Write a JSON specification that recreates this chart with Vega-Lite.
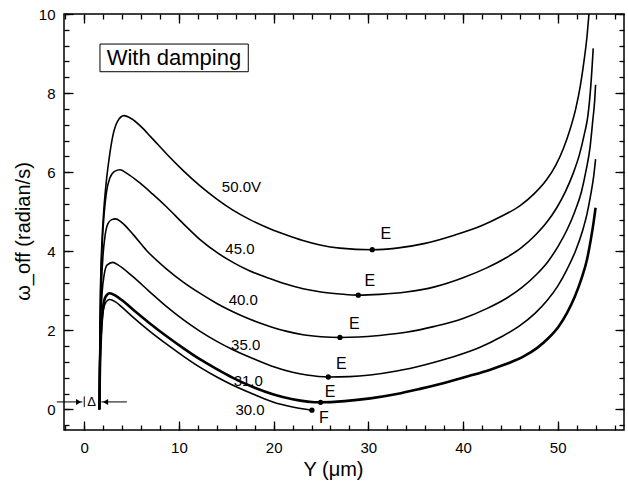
{
  "$schema": "https://vega.github.io/schema/vega-lite/v6.json",
  "width": 560,
  "height": 416,
  "autosize": "none",
  "padding": {"left": 64, "top": 14, "right": 4, "bottom": 55},
  "background": "white",
  "config": {
    "view": {"stroke": "black", "strokeWidth": 1.5},
    "font": "Liberation Sans",
    "axis": {"grid": false, "domain": false, "tickColor": "black", "tickWidth": 1.3, "labelColor": "black", "titleColor": "black", "labelFont": "Liberation Sans", "titleFont": "Liberation Sans", "labelFontSize": 15, "titleFontSize": 20, "titleFontWeight": "normal"}
  },
  "datasets": {
    "curves": [
      {"v":"50","x":1.6,"y":0},{"v":"50","x":1.62,"y":1.0},{"v":"50","x":1.66,"y":2.0},{"v":"50","x":1.71,"y":3.0},{"v":"50","x":1.78,"y":3.7},{"v":"50","x":1.9,"y":4.4},{"v":"50","x":2.05,"y":5.0},{"v":"50","x":2.3,"y":5.7},{"v":"50","x":2.6,"y":6.3},{"v":"50","x":3.0,"y":6.9},{"v":"50","x":3.5,"y":7.28},{"v":"50","x":4.2,"y":7.43},{"v":"50","x":5.0,"y":7.35},{"v":"50","x":6.0,"y":7.15},{"v":"50","x":7.0,"y":6.9},{"v":"50","x":8.7,"y":6.46},{"v":"50","x":10.45,"y":6.04},{"v":"50","x":12.2,"y":5.66},{"v":"50","x":14.0,"y":5.32},{"v":"50","x":15.7,"y":5.04},{"v":"50","x":17.5,"y":4.8},{"v":"50","x":19.6,"y":4.57},{"v":"50","x":21.5,"y":4.4},{"v":"50","x":23.0,"y":4.28},{"v":"50","x":24.9,"y":4.16},{"v":"50","x":27.0,"y":4.08},{"v":"50","x":30.4,"y":4.04},{"v":"50","x":33.0,"y":4.08},{"v":"50","x":36.0,"y":4.2},{"v":"50","x":39.0,"y":4.4},{"v":"50","x":42.0,"y":4.65},{"v":"50","x":44.0,"y":4.88},{"v":"50","x":46.0,"y":5.15},{"v":"50","x":47.5,"y":5.45},{"v":"50","x":48.8,"y":5.8},{"v":"50","x":49.8,"y":6.18},{"v":"50","x":50.6,"y":6.6},{"v":"50","x":51.3,"y":7.08},{"v":"50","x":51.9,"y":7.6},{"v":"50","x":52.4,"y":8.2},{"v":"50","x":52.8,"y":8.85},{"v":"50","x":53.1,"y":9.45},{"v":"50","x":53.3,"y":10.0},
      {"v":"45","x":1.6,"y":0},{"v":"45","x":1.62,"y":1.0},{"v":"45","x":1.66,"y":2.0},{"v":"45","x":1.72,"y":2.9},{"v":"45","x":1.8,"y":3.6},{"v":"45","x":1.92,"y":4.3},{"v":"45","x":2.1,"y":4.95},{"v":"45","x":2.35,"y":5.5},{"v":"45","x":2.7,"y":5.85},{"v":"45","x":3.2,"y":6.02},{"v":"45","x":3.77,"y":6.06},{"v":"45","x":4.5,"y":5.97},{"v":"45","x":5.9,"y":5.72},{"v":"45","x":7.2,"y":5.45},{"v":"45","x":8.7,"y":5.12},{"v":"45","x":10.45,"y":4.7},{"v":"45","x":12.2,"y":4.3},{"v":"45","x":14.0,"y":3.97},{"v":"45","x":15.7,"y":3.72},{"v":"45","x":17.5,"y":3.5},{"v":"45","x":19.6,"y":3.31},{"v":"45","x":21.3,"y":3.17},{"v":"45","x":23.1,"y":3.05},{"v":"45","x":25.0,"y":2.97},{"v":"45","x":27.0,"y":2.92},{"v":"45","x":28.94,"y":2.89},{"v":"45","x":31.2,"y":2.91},{"v":"45","x":34.0,"y":2.97},{"v":"45","x":37.0,"y":3.1},{"v":"45","x":40.0,"y":3.33},{"v":"45","x":42.5,"y":3.58},{"v":"45","x":44.5,"y":3.83},{"v":"45","x":46.2,"y":4.1},{"v":"45","x":47.6,"y":4.4},{"v":"45","x":48.8,"y":4.72},{"v":"45","x":49.9,"y":5.1},{"v":"45","x":50.8,"y":5.5},{"v":"45","x":51.6,"y":5.95},{"v":"45","x":52.3,"y":6.45},{"v":"45","x":52.8,"y":6.95},{"v":"45","x":53.2,"y":7.45},{"v":"45","x":53.5,"y":8.2},{"v":"45","x":53.75,"y":9.13},
      {"v":"40","x":1.6,"y":0},{"v":"40","x":1.62,"y":0.9},{"v":"40","x":1.67,"y":1.8},{"v":"40","x":1.74,"y":2.6},{"v":"40","x":1.84,"y":3.3},{"v":"40","x":1.98,"y":3.9},{"v":"40","x":2.2,"y":4.4},{"v":"40","x":2.5,"y":4.7},{"v":"40","x":2.9,"y":4.8},{"v":"40","x":3.3,"y":4.82},{"v":"40","x":3.9,"y":4.74},{"v":"40","x":5.17,"y":4.42},{"v":"40","x":6.58,"y":4.02},{"v":"40","x":8.7,"y":3.55},{"v":"40","x":10.45,"y":3.22},{"v":"40","x":12.2,"y":2.94},{"v":"40","x":14.0,"y":2.68},{"v":"40","x":15.7,"y":2.47},{"v":"40","x":17.5,"y":2.28},{"v":"40","x":19.6,"y":2.1},{"v":"40","x":21.3,"y":1.98},{"v":"40","x":23.1,"y":1.89},{"v":"40","x":25.0,"y":1.84},{"v":"40","x":27.0,"y":1.82},{"v":"40","x":29.0,"y":1.83},{"v":"40","x":31.2,"y":1.87},{"v":"40","x":34.0,"y":1.95},{"v":"40","x":37.0,"y":2.1},{"v":"40","x":40.0,"y":2.3},{"v":"40","x":42.5,"y":2.55},{"v":"40","x":44.5,"y":2.8},{"v":"40","x":46.2,"y":3.08},{"v":"40","x":47.7,"y":3.4},{"v":"40","x":49.0,"y":3.75},{"v":"40","x":50.1,"y":4.15},{"v":"40","x":51.0,"y":4.55},{"v":"40","x":51.8,"y":5.0},{"v":"40","x":52.5,"y":5.5},{"v":"40","x":53.0,"y":6.05},{"v":"40","x":53.4,"y":6.6},{"v":"40","x":53.7,"y":7.3},{"v":"40","x":53.9,"y":7.8},{"v":"40","x":54.0,"y":8.21},
      {"v":"35","x":1.6,"y":0},{"v":"35","x":1.63,"y":0.9},{"v":"35","x":1.69,"y":1.8},{"v":"35","x":1.78,"y":2.5},{"v":"35","x":1.9,"y":3.0},{"v":"35","x":2.1,"y":3.4},{"v":"35","x":2.4,"y":3.65},{"v":"35","x":3.0,"y":3.72},{"v":"35","x":3.6,"y":3.65},{"v":"35","x":5.17,"y":3.35},{"v":"35","x":6.8,"y":3.0},{"v":"35","x":8.7,"y":2.6},{"v":"35","x":10.45,"y":2.27},{"v":"35","x":12.2,"y":1.98},{"v":"35","x":14.0,"y":1.72},{"v":"35","x":15.7,"y":1.51},{"v":"35","x":18.0,"y":1.27},{"v":"35","x":20.0,"y":1.08},{"v":"35","x":22.0,"y":0.94},{"v":"35","x":23.5,"y":0.87},{"v":"35","x":25.77,"y":0.82},{"v":"35","x":28.0,"y":0.83},{"v":"35","x":30.2,"y":0.87},{"v":"35","x":33.0,"y":0.97},{"v":"35","x":36.0,"y":1.13},{"v":"35","x":39.0,"y":1.33},{"v":"35","x":41.8,"y":1.57},{"v":"35","x":44.0,"y":1.83},{"v":"35","x":46.0,"y":2.12},{"v":"35","x":47.6,"y":2.43},{"v":"35","x":48.9,"y":2.76},{"v":"35","x":50.0,"y":3.12},{"v":"35","x":51.0,"y":3.55},{"v":"35","x":51.9,"y":4.02},{"v":"35","x":52.6,"y":4.5},{"v":"35","x":53.1,"y":4.95},{"v":"35","x":53.5,"y":5.45},{"v":"35","x":53.8,"y":5.9},{"v":"35","x":54.0,"y":6.33},
      {"v":"31","x":1.6,"y":0},{"v":"31","x":1.64,"y":0.8},{"v":"31","x":1.72,"y":1.6},{"v":"31","x":1.84,"y":2.2},{"v":"31","x":2.0,"y":2.6},{"v":"31","x":2.25,"y":2.85},{"v":"31","x":2.7,"y":2.94},{"v":"31","x":3.3,"y":2.88},{"v":"31","x":4.0,"y":2.76},{"v":"31","x":5.17,"y":2.52},{"v":"31","x":6.8,"y":2.2},{"v":"31","x":8.7,"y":1.85},{"v":"31","x":10.45,"y":1.55},{"v":"31","x":12.2,"y":1.27},{"v":"31","x":14.0,"y":1.02},{"v":"31","x":15.7,"y":0.8},{"v":"31","x":18.0,"y":0.55},{"v":"31","x":20.0,"y":0.38},{"v":"31","x":22.0,"y":0.26},{"v":"31","x":24.96,"y":0.18},{"v":"31","x":27.5,"y":0.21},{"v":"31","x":30.2,"y":0.28},{"v":"31","x":33.0,"y":0.39},{"v":"31","x":35.45,"y":0.52},{"v":"31","x":38.0,"y":0.67},{"v":"31","x":40.7,"y":0.85},{"v":"31","x":42.8,"y":1.0},{"v":"31","x":44.7,"y":1.16},{"v":"31","x":46.4,"y":1.34},{"v":"31","x":47.8,"y":1.55},{"v":"31","x":49.0,"y":1.8},{"v":"31","x":50.1,"y":2.1},{"v":"31","x":51.0,"y":2.45},{"v":"31","x":51.8,"y":2.85},{"v":"31","x":52.5,"y":3.3},{"v":"31","x":53.1,"y":3.8},{"v":"31","x":53.5,"y":4.3},{"v":"31","x":53.8,"y":4.75},{"v":"31","x":54.0,"y":5.1},
      {"v":"30","x":1.6,"y":0},{"v":"30","x":1.64,"y":0.75},{"v":"30","x":1.72,"y":1.5},{"v":"30","x":1.84,"y":2.1},{"v":"30","x":2.0,"y":2.5},{"v":"30","x":2.25,"y":2.7},{"v":"30","x":2.64,"y":2.78},{"v":"30","x":3.3,"y":2.72},{"v":"30","x":4.0,"y":2.58},{"v":"30","x":5.17,"y":2.33},{"v":"30","x":6.8,"y":2.0},{"v":"30","x":8.7,"y":1.65},{"v":"30","x":10.45,"y":1.35},{"v":"30","x":12.2,"y":1.07},{"v":"30","x":14.0,"y":0.82},{"v":"30","x":15.7,"y":0.61},{"v":"30","x":18.0,"y":0.37},{"v":"30","x":20.0,"y":0.18},{"v":"30","x":22.0,"y":0.06},{"v":"30","x":24.04,"y":-0.02}
    ],
    "ends": [
      {"x":30.41,"y":4.04,"t":"E","lx":31.85,"ly":4.44},
      {"x":28.94,"y":2.89,"t":"E","lx":30.17,"ly":3.24},
      {"x":27.0,"y":1.82,"t":"E","lx":28.53,"ly":2.15},
      {"x":25.77,"y":0.82,"t":"E","lx":27.16,"ly":1.14},
      {"x":24.96,"y":0.18,"t":"E","lx":25.95,"ly":0.44},
      {"x":24.04,"y":-0.02,"t":"F","lx":25.3,"ly":-0.22}
    ],
    "curveLabels": [
      {"x":16.6,"y":5.62,"t":"50.0V"},
      {"x":16.44,"y":4.06,"t":"45.0"},
      {"x":16.79,"y":2.76,"t":"40.0"},
      {"x":17.05,"y":1.64,"t":"35.0"},
      {"x":17.32,"y":0.72,"t":"31.0"},
      {"x":17.5,"y":-0.02,"t":"30.0"}
    ],
    "box": [{"x":1.66,"x2":17.32,"y":8.54,"y2":9.24,"cx":9.47,"cy":8.88,"t":"With damping"}],
    "arrows": [
      {"x":-2.9,"x2":-0.2,"y":0.19,"y2":0.19},
      {"x":1.8,"x2":4.5,"y":0.19,"y2":0.19},
      {"x":0,"x2":0,"y":0.06,"y2":0.33}
    ],
    "heads": [
      {"x":-0.6,"y":0.19,"dir":"right"},
      {"x":2.25,"y":0.19,"dir":"left"}
    ],
    "delta": [{"x":0.78,"y":0.19,"t":"Δ"}]
  },
  "resolve": {"axis": {"x": "independent", "y": "independent"}},
  "layer": [
    {
      "data": {"name": "curves"},
      "transform": [{"filter": "datum.v !== '31'"}],
      "mark": {"type": "line", "color": "black", "strokeWidth": 1.6, "interpolate": "monotone"},
      "encoding": {
        "x": {"field": "x", "type": "quantitative", "scale": {"domain": [-2.14, 57], "nice": false, "zero": false},
              "axis": {"orient": "bottom", "values": [0,10,20,30,40,50], "tickSize": -9, "labelPadding": 19, "title": "Y (μm)", "titlePadding": 4, "titleX": 269}},
        "y": {"field": "y", "type": "quantitative", "scale": {"domain": [-0.52, 10], "nice": false, "zero": false},
              "axis": {"orient": "left", "values": [0,2,4,6,8,10], "tickSize": -9, "labelPadding": 18, "title": "ω_off (radian/s)", "titlePadding": 5, "titleY": 217}},
        "detail": {"field": "v"}
      }
    },
    {
      "data": {"name": "curves"},
      "transform": [{"filter": "datum.v === '31'"}],
      "mark": {"type": "line", "color": "black", "strokeWidth": 2.6, "interpolate": "monotone"},
      "encoding": {
        "x": {"field": "x", "type": "quantitative", "scale": {"domain": [-2.14, 57], "nice": false, "zero": false},
              "axis": {"orient": "bottom", "values": [-2,0,2,4,6,8,10,12,14,16,18,20,22,24,26,28,30,32,34,36,38,40,42,44,46,48,50,52,54,56], "tickSize": -5, "labels": false, "title": null}},
        "y": {"field": "y", "type": "quantitative", "scale": {"domain": [-0.52, 10], "nice": false, "zero": false},
              "axis": {"orient": "left", "values": [-0.4,0,0.4,0.8,1.2,1.6,2,2.4,2.8,3.2,3.6,4,4.4,4.8,5.2,5.6,6,6.4,6.8,7.2,7.6,8,8.4,8.8,9.2,9.6,10], "tickSize": -5, "labels": false, "title": null}}
      }
    },
    {
      "data": {"name": "ends"},
      "mark": {"type": "circle", "color": "black", "size": 28, "opacity": 1},
      "encoding": {
        "x": {"field": "x", "type": "quantitative", "scale": {"domain": [-2.14, 57], "nice": false, "zero": false},
              "axis": {"orient": "top", "values": [0,10,20,30,40,50], "tickSize": -9, "labels": false, "title": null}},
        "y": {"field": "y", "type": "quantitative", "scale": {"domain": [-0.52, 10], "nice": false, "zero": false},
              "axis": {"orient": "right", "values": [0,2,4,6,8,10], "tickSize": -9, "labels": false, "title": null}}
      }
    },
    {
      "data": {"name": "curveLabels"},
      "mark": {"type": "text", "color": "black", "fontSize": 15, "font": "Liberation Sans", "align": "center", "baseline": "middle"},
      "encoding": {
        "x": {"field": "x", "type": "quantitative", "scale": {"domain": [-2.14, 57], "nice": false, "zero": false},
              "axis": {"orient": "top", "values": [-2,0,2,4,6,8,10,12,14,16,18,20,22,24,26,28,30,32,34,36,38,40,42,44,46,48,50,52,54,56], "tickSize": -5, "labels": false, "title": null}},
        "y": {"field": "y", "type": "quantitative", "scale": {"domain": [-0.52, 10], "nice": false, "zero": false},
              "axis": {"orient": "right", "values": [-0.4,0,0.4,0.8,1.2,1.6,2,2.4,2.8,3.2,3.6,4,4.4,4.8,5.2,5.6,6,6.4,6.8,7.2,7.6,8,8.4,8.8,9.2,9.6,10], "tickSize": -5, "labels": false, "title": null}},
        "text": {"field": "t"}
      }
    },
    {
      "data": {"name": "ends"},
      "mark": {"type": "text", "color": "black", "fontSize": 16, "font": "Liberation Sans", "align": "center", "baseline": "middle"},
      "encoding": {
        "x": {"field": "lx", "type": "quantitative", "scale": {"domain": [-2.14, 57], "nice": false, "zero": false}, "axis": null},
        "y": {"field": "ly", "type": "quantitative", "scale": {"domain": [-0.52, 10], "nice": false, "zero": false}, "axis": null},
        "text": {"field": "t"}
      }
    },
    {
      "data": {"name": "box"},
      "mark": {"type": "rect", "fillOpacity": 0, "fill": "white", "stroke": "black", "strokeWidth": 1},
      "encoding": {
        "x": {"field": "x", "type": "quantitative", "scale": {"domain": [-2.14, 57], "nice": false, "zero": false}, "axis": null},
        "x2": {"field": "x2"},
        "y": {"field": "y", "type": "quantitative", "scale": {"domain": [-0.52, 10], "nice": false, "zero": false}, "axis": null},
        "y2": {"field": "y2"}
      }
    },
    {
      "data": {"name": "box"},
      "mark": {"type": "text", "color": "black", "fontSize": 22, "font": "Liberation Sans", "align": "center", "baseline": "middle"},
      "encoding": {
        "x": {"field": "cx", "type": "quantitative", "scale": {"domain": [-2.14, 57], "nice": false, "zero": false}, "axis": null},
        "y": {"field": "cy", "type": "quantitative", "scale": {"domain": [-0.52, 10], "nice": false, "zero": false}, "axis": null},
        "text": {"field": "t"}
      }
    },
    {
      "data": {"name": "arrows"},
      "mark": {"type": "rule", "color": "black", "strokeWidth": 1},
      "encoding": {
        "x": {"field": "x", "type": "quantitative", "scale": {"domain": [-2.14, 57], "nice": false, "zero": false}, "axis": null},
        "x2": {"field": "x2"},
        "y": {"field": "y", "type": "quantitative", "scale": {"domain": [-0.52, 10], "nice": false, "zero": false}, "axis": null},
        "y2": {"field": "y2"}
      }
    },
    {
      "data": {"name": "heads"},
      "mark": {"type": "point", "filled": true, "color": "black", "size": 35, "opacity": 1},
      "encoding": {
        "x": {"field": "x", "type": "quantitative", "scale": {"domain": [-2.14, 57], "nice": false, "zero": false}, "axis": null},
        "y": {"field": "y", "type": "quantitative", "scale": {"domain": [-0.52, 10], "nice": false, "zero": false}, "axis": null},
        "shape": {"field": "dir", "type": "nominal", "scale": {"domain": ["right", "left"], "range": ["triangle-right", "triangle-left"]}, "legend": null}
      }
    },
    {
      "data": {"name": "delta"},
      "mark": {"type": "text", "color": "black", "fontSize": 13, "font": "Liberation Sans", "align": "center", "baseline": "middle"},
      "encoding": {
        "x": {"field": "x", "type": "quantitative", "scale": {"domain": [-2.14, 57], "nice": false, "zero": false}, "axis": null},
        "y": {"field": "y", "type": "quantitative", "scale": {"domain": [-0.52, 10], "nice": false, "zero": false}, "axis": null},
        "text": {"field": "t"}
      }
    }
  ]
}
